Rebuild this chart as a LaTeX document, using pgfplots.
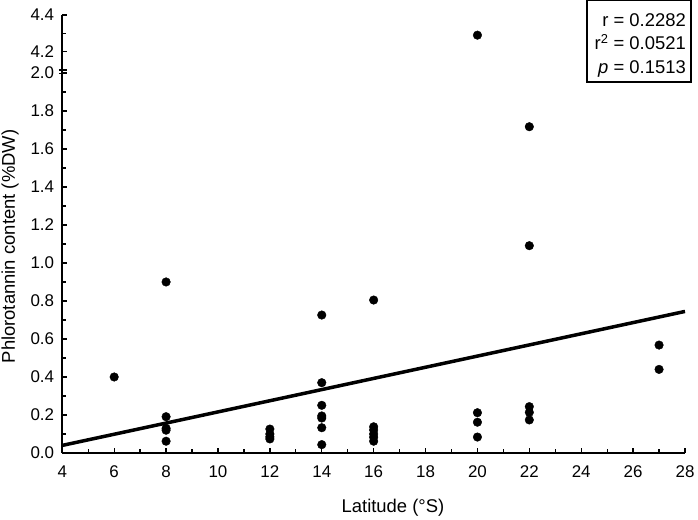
\documentclass[border=0pt]{standalone}
\usepackage{pgfplots}
\pgfplotsset{compat=1.18}
\usepackage{fontspec}
\setmainfont{Liberation Sans}
\begin{document}
\begin{tikzpicture}
\begin{axis}[
  at={(0,0)}, anchor=south west,
  scale only axis,
  width=622.7bp, height=438bp,
  xmin=4, xmax=28, ymin=0, ymax=2.305,
  clip=false,
  axis x line*=bottom, axis y line*=left,
  axis line style={-, line width=1.6bp},
  every outer x axis line/.append style={-},
  every outer y axis line/.append style={-},
  tick align=inside,
  major tick length=5bp, minor tick length=4bp,
  every tick/.style={black, line width=1.3bp},
  xtick={4,6,...,28},
  minor xtick={5,7,...,27},
  ytick={0,0.2,0.4,0.6,0.8,1.0,1.2,1.4,1.6,1.8,2.0,2.112,2.305},
  yticklabels={0.0,0.2,0.4,0.6,0.8,1.0,1.2,1.4,1.6,1.8,2.0,4.2,4.4},
  minor ytick={0.1,0.3,0.5,0.7,0.9,1.1,1.3,1.5,1.7,1.9,2.2085},
  /pgf/number format/assume math mode=true,
  tick label style={font=\fontsize{17}{20}\selectfont},
  xticklabel style={anchor=base, inner sep=0pt, yshift=-24.5bp},
  yticklabel style={anchor=east, inner sep=0pt, xshift=-8bp},
  y filter/.expression={y>3 ? 2.112+(y-4.2)*0.965 : y},
  xlabel={Latitude (°S)},
  ylabel={Phlorotannin content (\%DW)},
  label style={font=\fontsize{18.5}{22}\selectfont},
  xlabel style={at={(axis description cs:0.531,-0.1256)}, anchor=center},
  ylabel style={at={(axis description cs:-0.084,0.4715)}, anchor=center},
]
\addplot[only marks, mark=*, mark size=4.3bp, black] table {
x y
6 0.40
8 0.90
8 0.191
8 0.13
8 0.12
8 0.062
12 0.126
12 0.10
12 0.085
12 0.074
14 0.726
14 0.37
14 0.251
14 0.195
14 0.184
14 0.133
14 0.044
16 0.805
16 0.138
16 0.121
16 0.10
16 0.083
16 0.062
20 4.29
20 0.212
20 0.162
20 0.084
22 1.717
22 1.091
22 0.244
22 0.214
22 0.174
27 0.568
27 0.44
};
\addplot[black, line width=3.5bp] coordinates {(4,0.04) (28,0.745)};
\end{axis}
% axis break marks (y = 2.0 is at 380bp)
\draw[line width=1.5bp] (-3.5bp,383bp) -- (4.5bp,383bp);
\draw[line width=1.5bp] (-3.5bp,379.5bp) -- (4.5bp,379.5bp);
% statistics box
\draw[line width=1.8bp] (524.7bp,371bp) rectangle (628.7bp,452.5bp);
\node[anchor=base east, inner sep=0pt, font=\fontsize{18.5}{22}\selectfont] at (623.7bp,426.3bp) {r = 0.2282};
\node[anchor=base east, inner sep=0pt, font=\fontsize{18.5}{22}\selectfont] at (623.7bp,403bp) {r\textsuperscript{2} = 0.0521};
\node[anchor=base east, inner sep=0pt, font=\fontsize{18.5}{22}\selectfont] at (623.7bp,379bp) {\textit{p} = 0.1513};
\pgfresetboundingbox
\path[use as bounding box] (-62.3bp,-67bp) rectangle (635.7bp,453bp);
\end{tikzpicture}
\end{document}
